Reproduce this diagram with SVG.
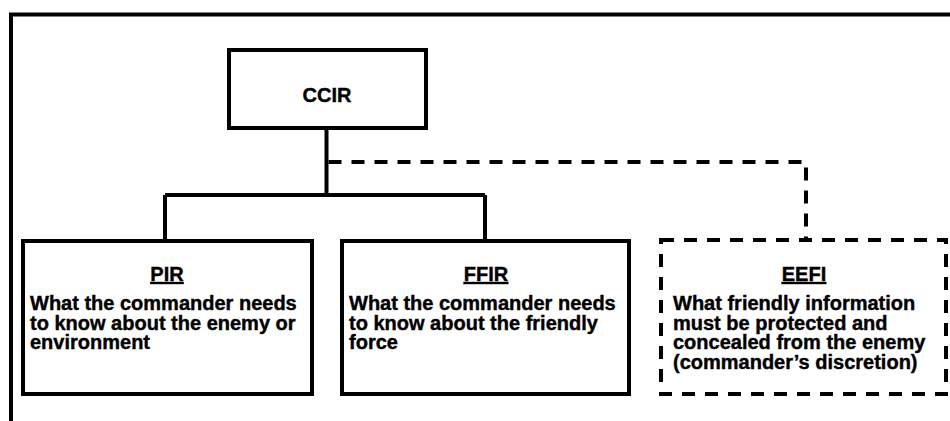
<svg xmlns="http://www.w3.org/2000/svg" width="950" height="421" viewBox="0 0 950 421">
<style>
.box{fill:#fff;stroke:#000;stroke-width:4}
.dbox{fill:#fff;stroke:#000;stroke-width:4;stroke-dasharray:13 10}
.ln{fill:none;stroke:#000;stroke-width:4}
.dln{fill:none;stroke:#000;stroke-width:4;stroke-dasharray:13 10}
text{font-family:"Liberation Sans",Arial,sans-serif;font-weight:bold;fill:#000;stroke:#000;stroke-width:0.4}
.t{font-size:20px;text-anchor:middle;text-decoration:underline}
.b{font-size:20px}
</style>
<rect width="950" height="421" fill="#fff"/>
<g id="frame"><path class="ln" d="M11,421 V14.5 H950"/></g>
<g id="connectors">
<path class="ln" d="M326.5,128 V195 M165,195 H485 M165,195 V241 M485,195 V241"/>
<path class="dln" d="M328.5,162 H806 V240"/>
</g>
<g id="ccir">
<rect class="box" x="229" y="50" width="197" height="78"/>
<text x="327" y="102" font-size="20" text-anchor="middle">CCIR</text>
</g>
<g id="pir">
<rect class="box" x="23" y="241" width="289" height="153"/>
<text class="t" x="167" y="281">PIR</text>
<text class="b" x="30"><tspan x="30" y="310">What the commander needs</tspan><tspan x="30" y="329.5">to know about the enemy or</tspan><tspan x="30" y="349">environment</tspan></text>
</g>
<g id="ffir">
<rect class="box" x="342" y="241" width="287" height="153"/>
<text class="t" x="486" y="281">FFIR</text>
<text class="b" x="349"><tspan x="349" y="310">What the commander needs</tspan><tspan x="349" y="329.5">to know about the friendly</tspan><tspan x="349" y="349">force</tspan></text>
</g>
<g id="eefi">
<rect class="dbox" x="661" y="240" width="285" height="154"/>
<text class="t" x="804" y="281">EEFI</text>
<text class="b" x="673"><tspan x="673" y="310">What friendly information</tspan><tspan x="673" y="329.5">must be protected and</tspan><tspan x="673" y="349">concealed from the enemy</tspan><tspan x="673" y="368.5">(commander’s discretion)</tspan></text>
</g>
</svg>
